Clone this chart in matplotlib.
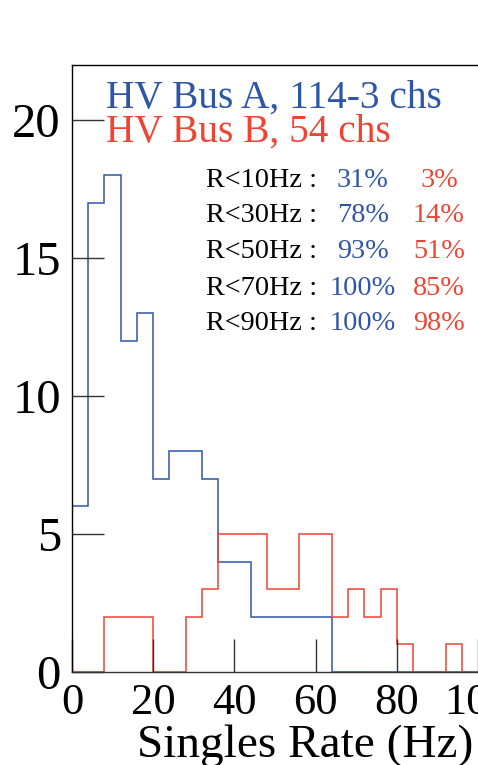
import numpy as np
import matplotlib
matplotlib.use("Agg")
import matplotlib.pyplot as plt

# Data (4 Hz bins from 0 to 120 Hz)
bin_edges = list(range(0, 124, 4))
bus_a_counts = [6, 17, 18, 12, 13, 7, 8, 8, 7, 4, 4, 2, 2, 2, 2, 2,
                0, 0, 0, 0, 0, 0, 0, 0, 0, 0, 0, 0, 0, 0]
bus_b_counts = [0, 0, 2, 2, 2, 0, 0, 2, 3, 5, 5, 5, 3, 3, 5, 5,
                2, 3, 2, 3, 1, 0, 0, 1, 0, 0, 0, 0, 0, 0]
x_ticks = [0, 20, 40, 60, 80, 100, 120]
y_ticks = [0, 5, 10, 15, 20]
thresholds = ["R<10Hz :", "R<30Hz :", "R<50Hz :", "R<70Hz :", "R<90Hz :"]
frac_a = ["31%", "78%", "93%", "100%", "100%"]
frac_b = ["3%", "14%", "51%", "85%", "98%"]
label_a = "HV Bus A, 114-3 chs"
label_b = "HV Bus B, 54 chs"

BLUE = "#2f55a8"
RED = "#ee4433"

W, H = 478, 765
fig = plt.figure(figsize=(W / 100, H / 100), dpi=100)
plt.rcParams['font.family'] = ['Liberation Serif', 'DejaVu Serif']

# axes: left at 72px, bottom at 672px, top at 65px; extends beyond right edge
x_px_per_unit = 4.06
xmax = 120
left = 72 / W
bottom = (H - 672) / H
height = (672 - 65) / H
width = (xmax * x_px_per_unit) / W
ax = fig.add_axes([left, bottom, width, height])

ax.stairs(bus_a_counts, bin_edges, color=BLUE, linewidth=1.1, baseline=0)
ax.stairs(bus_b_counts, bin_edges, color=RED, linewidth=1.1, baseline=0)

ax.set_xlim(0, xmax)
ax.set_ylim(0, 22)
ax.set_xticks(x_ticks)
ax.set_yticks(y_ticks)
ax.tick_params(axis='both', direction='in', width=1, color='#333333')
ax.tick_params(axis='x', length=24, pad=8, labelsize=32)
ax.tick_params(axis='y', length=23, pad=8, labelsize=35)
for s in ax.spines.values():
    s.set_linewidth(1.0)
ax.spines['bottom'].set_color('#333333')

# titles / legend text
fig.text(106 / W, 1 - 108 / H, label_a, color=BLUE, fontsize=28.4,
         ha='left', va='baseline')
fig.text(106 / W, 1 - 142 / H, label_b, color=RED, fontsize=28.4,
         ha='left', va='baseline')

# stats
row_y = [187, 222, 258, 295, 330]
a_x = [337, 337, 337, 330, 330]
b_x = [421, 413, 413, 413, 413]
for i in range(5):
    yb = 1 - row_y[i] / H
    fig.text(206 / W, yb, thresholds[i], color='black', fontsize=20.3,
             ha='left', va='baseline')
    fig.text(a_x[i] / W, yb, frac_a[i], color=BLUE, fontsize=20.3,
             ha='left', va='baseline')
    fig.text(b_x[i] / W, yb, frac_b[i], color=RED, fontsize=20.3,
             ha='left', va='baseline')

fig.text(473 / W, 1 - 757 / H, "Singles Rate (Hz)", color='black',
         fontsize=34, ha='right', va='baseline')

fig.savefig("out.png", dpi=100)
